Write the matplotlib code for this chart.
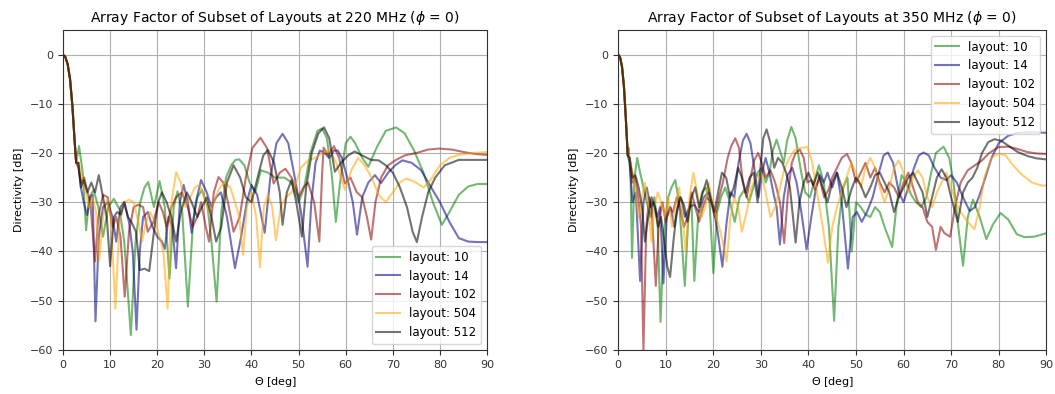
import numpy as np
import matplotlib
matplotlib.use("Agg")
import matplotlib.pyplot as plt

# ---------------- data (theta [deg], directivity [dB]) ----------------
layouts = ["layout: 10", "layout: 14", "layout: 102", "layout: 504", "layout: 512"]
colors = ["green", "navy", "darkred", "orange", "black"]

main_220 = [(0, 0), (0.5, -0.5), (1, -2), (1.5, -5), (2, -10.5), (2.5, -18), (2.8, -22)]
main_350 = [(0, 0), (0.4, -0.6), (0.8, -2.5), (1.2, -6.5), (1.6, -13), (2.0, -20.5)]

f220_l10 = [(3.4,-18.6),(4.2,-24),(4.9,-35.7),(5.6,-29),(6.5,-27.5),(7.5,-31),(8.5,-37),(9.6,-31),(10.8,-29.3),(12,-31.5),(13,-38),(14.4,-57),(15.4,-38),(16.4,-30),(17.3,-27),(18.1,-25.9),(19.3,-31),(20.5,-25.7),(21.6,-31),(22.6,-45.5),(23.5,-31),(24.3,-27.8),(25.3,-32),(26.5,-51.2),(27.6,-34),(28.5,-29),(29.5,-27.5),(30.7,-31),(31.5,-38),(32.6,-50.2),(33.6,-32),(34.6,-25),(35.7,-22.5),(36.6,-21.4),(37.4,-21.3),(38.5,-22.5),(39.6,-26),(40.8,-28),(42,-23.5),(43.5,-24),(45,-25),(47,-25),(48.5,-26),(50,-30),(51.2,-27),(52.5,-20),(54,-15.5),(55,-15),(56,-17),(57,-24),(57.9,-34),(58.8,-26),(60,-18),(61,-16.7),(62,-18),(63.5,-21),(64.8,-22.8),(66.5,-19),(68.5,-15.5),(70.7,-14.8),(72.5,-16),(74.5,-19.5),(76.5,-24),(78.5,-30),(80.4,-34.6),(82,-32),(84,-28.5),(86,-26.8),(88,-26.3),(90,-26.3)]
f220_l14 = [(3.2,-22),(3.8,-27),(4.4,-30),(5.1,-32.6),(5.8,-29),(6.3,-28.5),(6.9,-54.2),(7.6,-37),(8.5,-31),(9.5,-30),(10.5,-33),(11.3,-38),(12.2,-31),(13,-30),(14,-34),(14.8,-40),(15.6,-55.9),(16.3,-40),(17,-33),(18,-32),(19,-35),(20,-37),(21,-38),(21.6,-39.5),(22.4,-33),(23.2,-35),(24,-43.4),(24.8,-30),(25.6,-26.5),(26.5,-30),(27.3,-36.2),(28.2,-30),(29.3,-25.5),(30.5,-28),(31.5,-31),(32.5,-29),(33.5,-28),(34.8,-33),(36.5,-43.4),(37.8,-37),(39,-30),(40,-26.5),(41.2,-28.5),(42.8,-36.2),(44,-25),(45.3,-18),(46.6,-16.1),(47.8,-18),(49,-24),(50.5,-32),(51.9,-43.1),(52.7,-30),(53.6,-22),(54.5,-19.5),(55.5,-20),(56.5,-21),(57.5,-19.5),(58.3,-19.5),(59.2,-21),(60.3,-25),(61.5,-30),(62.4,-36.6),(63.5,-29),(64.8,-26),(66.2,-24.5),(67.5,-26.1),(69,-24),(70.5,-22.5),(72,-21.5),(74,-22),(76,-23.5),(78,-26.8),(80,-30),(82,-34),(84,-37.3),(86,-38),(88,-38.1),(90,-38.1)]
f220_l102 = [(3.3,-23),(3.8,-26),(4.5,-25),(5.2,-28),(5.8,-30),(6.8,-42),(7.5,-33),(8.5,-28.5),(9.5,-29),(10.5,-35),(11.3,-33),(12.2,-37),(13.1,-49.2),(14,-36),(15,-31),(16,-30.5),(17,-31),(18,-36),(19.2,-34),(20.3,-30),(21.2,-32),(22,-35),(23,-31),(24,-29),(25.2,-28),(26.5,-31),(27.5,-35),(28.5,-33),(29.3,-30),(30.3,-35),(31,-38),(32,-28),(33,-24.9),(34,-26),(35,-30),(36.2,-36),(37.5,-33),(38.8,-25),(40.2,-19),(41.9,-16.9),(43.3,-19),(44.7,-26.2),(46,-24),(47.2,-23.2),(48.5,-25),(50,-29),(51,-27),(52,-26),(53.3,-30),(54.4,-38),(55,-24),(55.3,-18.9),(56.3,-20.5),(57.5,-18.6),(58.6,-21),(59.8,-26.2),(61,-25),(62.3,-27.9),(63.5,-29),(64.5,-33),(65.4,-37.6),(66.3,-30),(67.5,-25),(69,-22.5),(70.5,-21.5),(72.5,-20.5),(75,-20),(77.5,-19.3),(79.8,-19.1),(82.5,-19.3),(85,-19.8),(87.5,-20.2),(90,-20.4)]
f220_l504 = [(3.3,-22),(4,-25),(4.7,-27),(5.5,-31),(6.3,-29),(7,-32),(7.7,-41.8),(8.5,-33),(9.3,-29.5),(10.2,-33),(11.1,-51.6),(12,-34),(13,-30),(14,-29.5),(15,-30),(16,-34),(16.8,-38),(17.6,-34),(18.5,-32),(19.5,-34),(20.5,-37),(21.3,-40),(22.2,-51.6),(23,-30),(24,-23.9),(25,-26),(26,-31),(27,-29),(28,-27),(29,-26.5),(30,-29),(31,-32),(32,-30),(33,-27.5),(34.2,-26),(35.5,-27),(36.5,-30),(37.4,-33),(38.2,-40.7),(39,-31),(40,-28),(41,-33),(41.8,-43.2),(42.6,-31),(43.5,-28.5),(44.4,-31),(45.2,-37.7),(46.2,-31),(47.3,-29),(48.5,-28),(49.5,-26),(50.5,-23),(52,-21.5),(53.5,-21),(55,-20),(56.5,-19.4),(58,-22),(59.8,-27.5),(61.2,-23.5),(62.6,-21),(64,-22.5),(65.5,-25),(67,-28.5),(68.5,-30),(70,-28),(71.5,-26),(72.8,-25.2),(74.5,-25.8),(76.5,-27),(78,-25.5),(80,-22.5),(82,-21),(84,-20.4),(87,-20),(90,-19.8)]
f220_l512 = [(3.3,-22),(3.8,-27),(4.4,-25.5),(5.2,-28),(6,-26),(6.8,-28),(7.6,-24.5),(8.5,-29),(9.3,-33),(10,-43),(10.8,-33),(11.5,-32),(12.3,-32.5),(13,-30),(13.8,-33),(14.5,-34),(15.5,-36),(16.3,-43.8),(17.3,-43.5),(18.3,-44),(19.3,-36),(20.2,-30),(21,-28),(22,-30),(23,-33),(24,-38),(25,-32),(26.3,-28),(27.3,-30),(28.5,-33),(29.5,-31),(30.5,-29),(31.5,-33),(32.5,-38),(33.6,-35),(34.8,-26),(36.2,-22.5),(37.6,-25),(38.8,-29),(40,-30),(41.3,-25),(42.5,-20.5),(43.5,-19.4),(44.8,-22),(46,-28),(46.6,-34.6),(47.5,-28),(48.5,-25.5),(49.5,-30),(50.7,-37),(51.6,-27),(52.8,-20),(54.2,-16),(55.4,-14.8),(56.5,-17),(57.7,-23.8),(59,-22),(60.5,-20.5),(61.9,-19.7),(63.5,-20.5),(65.4,-21.4),(67,-21.5),(68.5,-22.5),(70,-24),(71.5,-27),(73,-31),(74.2,-36),(75.1,-38.1),(76.2,-33),(77.5,-28),(79,-25),(81,-22.5),(84,-21.4),(87,-21.4),(90,-21.4)]

f350_l10 = [(2.2,-19),(2.6,-25),(2.9,-41.3),(3.4,-25),(4,-21),(4.6,-24),(5.3,-27),(6,-30),(6.8,-33),(7.6,-29),(8.3,-35),(8.9,-54.3),(9.6,-36),(10.5,-29),(11.2,-27),(12,-25.5),(12.8,-30),(14,-47),(14.8,-32),(15.4,-30),(16,-46),(16.8,-33),(17.6,-28),(18.4,-27),(19.2,-30),(20,-44.4),(20.8,-32),(21.6,-29),(22.5,-27),(23.5,-30),(24.5,-34),(25.5,-29),(26.5,-27.5),(27.5,-30),(28.4,-27),(29.3,-24),(30.2,-23),(31,-26),(31.8,-24),(32.5,-19.5),(33.3,-17.3),(34,-19.5),(34.8,-22),(35.5,-17.5),(36.4,-14.7),(37.3,-17),(38.3,-23),(39.3,-28),(40.3,-29),(41.3,-25.5),(42.2,-22.5),(43.2,-26),(44.3,-35),(45.4,-54.1),(46.3,-35),(47.3,-27),(48.2,-25),(49.1,-40),(50,-30),(51,-31),(52,-32.5),(53,-33),(54,-31),(55,-32),(56,-35),(57.6,-39.1),(58.6,-30),(59.6,-24.5),(60.6,-26),(61.6,-28.5),(62.6,-30),(63.7,-31),(64.8,-29),(65.8,-24),(66.8,-20),(68.4,-18.7),(69.6,-21),(70.5,-26),(71.5,-35),(72.5,-42.9),(73.5,-33),(74.6,-29.5),(76,-33),(77.4,-37.5),(78.8,-34.5),(80.4,-32.2),(82,-33.5),(83.8,-36.5),(85.4,-37.1),(87.5,-37),(90,-36.3)]
f350_l14 = [(2.4,-22),(3,-30),(3.7,-28),(4.6,-46),(5.3,-30),(6,-27),(6.8,-31),(7.5,-30),(8.2,-33),(8.8,-31),(9.5,-46.5),(10.2,-33),(11,-31),(11.8,-35),(12.5,-31),(13.2,-29),(14,-33),(15,-31),(16,-30.5),(17,-32),(18,-29),(19,-28),(20,-31),(20.9,-36),(21.9,-43.1),(22.8,-34),(23.6,-28),(24.4,-29),(25.3,-22),(26.2,-17.5),(27,-16.1),(27.8,-18),(28.6,-23),(29.5,-29),(30.2,-24),(31,-21),(31.8,-24),(32.6,-28),(33.3,-31),(34,-38.6),(34.8,-29),(35.6,-24.5),(36.6,-23),(37.5,-26),(38.5,-32),(39.6,-39.6),(40.6,-33),(41.6,-27),(42.4,-24.5),(43.2,-26),(44,-24),(45,-27),(46,-24),(47,-30),(48.3,-43.5),(49.3,-33),(50.2,-32),(51.2,-34),(52.3,-32),(53.5,-29),(54.8,-24),(55.8,-20.5),(56.7,-19.9),(57.8,-22),(59,-28),(60,-30),(61,-27),(62.2,-23),(63.2,-20.5),(64.2,-19.9),(65.3,-20.5),(66.5,-23),(67.8,-25),(69,-25.5),(70,-24.5),(71.2,-26),(72.5,-29),(73.9,-31.8),(75,-31),(76,-28.5),(77.2,-25),(78.5,-21),(80,-18),(82,-16.5),(84,-15.9),(87,-15.8),(90,-15.9)]
f350_l102 = [(2.4,-21),(3,-26),(3.6,-25),(4.2,-29),(4.8,-35),(5.3,-60),(5.9,-35),(6.5,-29),(7,-31),(7.9,-47),(8.6,-33),(9.3,-30),(10,-34),(10.8,-31),(11.5,-32),(12.3,-29),(13,-31),(13.8,-35),(14.6,-33),(15.4,-28),(16.2,-31),(17,-34),(17.8,-31),(18.6,-29),(19.5,-30),(20.3,-33),(21.2,-29),(22,-26),(23,-21),(23.8,-18.5),(24.6,-17),(25.4,-19),(26.2,-26),(27,-29),(27.8,-25),(28.6,-21.5),(29.4,-20),(30.2,-22),(31,-25),(32,-23.5),(33,-26),(34,-30),(34.9,-38.3),(35.7,-28),(36.5,-22),(37.3,-20),(38.2,-19.3),(39,-21),(39.8,-26),(40.6,-25.5),(41.4,-27.5),(42.3,-25),(43.3,-29),(44.2,-27.5),(45,-25),(46,-23),(47,-21),(48.1,-20.2),(49,-22),(50,-26),(51,-24),(52,-22),(53,-25),(54,-23),(55,-26),(56,-28),(57,-26),(58,-27),(59,-29),(60,-26),(61,-24),(62,-27),(63,-30),(64,-31),(65,-34),(66,-35),(66.8,-39.7),(67.8,-35),(68.6,-36.3),(69.8,-37),(70.8,-31),(72,-26),(73.5,-23.5),(75,-22.5),(76.5,-21.5),(78,-20),(80,-18.8),(82,-18.7),(84,-19.2),(86,-19.8),(88,-20.1),(90,-20.2)]
f350_l504 = [(2.4,-21),(3,-24),(3.6,-27),(4.3,-33),(5,-29),(5.6,-26),(6.3,-30),(7,-38),(7.6,-31),(8.3,-28),(9,-30),(9.8,-33),(10.5,-29),(11.3,-35),(12,-31),(12.8,-27),(13.5,-33),(14.2,-40),(15,-29),(15.8,-24),(16.6,-28),(17.5,-33),(18.3,-31),(19,-26),(19.8,-30),(20.6,-33),(21.5,-36),(22.8,-42),(23.6,-33),(24.4,-29),(25.2,-31),(26,-36),(27,-32),(28,-27),(29,-25),(30,-24),(31,-28),(32,-33),(33,-31),(34,-27),(35,-23),(36,-21),(37,-19.5),(38,-19),(39.8,-18.8),(40.8,-22),(41.8,-28),(43,-35),(44.1,-42.3),(45,-35),(46,-31),(47,-28),(48,-25),(49,-22),(50,-24),(51,-27),(52,-23),(53,-21),(54,-23),(55,-27),(56,-30),(57,-27),(58,-23),(59,-21.5),(60,-24),(61,-28),(62,-25),(63,-23.5),(64,-25),(65,-29),(66,-31),(67,-28),(68,-26),(69,-24),(70,-27),(71,-30),(72,-32),(73.5,-34),(74.9,-35.5),(76,-31),(77,-25),(78.5,-21),(80,-20.1),(81.5,-20.5),(83,-22.5),(85,-24.5),(87,-26),(89,-26.6),(90,-26.6)]
f350_l512 = [(2.4,-21),(3,-25),(3.6,-24.5),(4.3,-27),(5,-31),(5.6,-38),(6.3,-33),(7,-29),(7.7,-31),(8.4,-35),(9,-33),(9.7,-38),(10.3,-43),(10.9,-45.2),(11.6,-38),(12.3,-32),(13,-29),(13.8,-30.5),(14.6,-34),(15.4,-29),(16.2,-27),(17,-31),(17.8,-28),(18.6,-25.5),(19.4,-29),(20.2,-32),(21,-28),(21.8,-24),(22.7,-25),(23.5,-29),(24.3,-27),(25.2,-23),(26,-25),(26.8,-28),(27.6,-25),(28.5,-24),(29.3,-30),(30,-22),(30.5,-17),(31.2,-15.2),(32,-18),(32.8,-23),(33.6,-21),(34.5,-22),(35.3,-24),(36.1,-27),(37.3,-38.2),(38.1,-30),(39,-26),(40,-24),(41,-26.5),(42,-24),(43,-27),(44,-30),(45,-26),(46,-24),(47,-27),(48,-31),(49,-27.5),(50,-25),(51,-26.5),(52,-29),(53,-27),(54,-24.5),(55,-24),(56,-26),(57,-28),(58,-32),(59,-29),(60,-27),(61,-25),(62,-24),(63,-26),(64,-28),(65,-33),(66,-29),(67,-25),(68,-23.3),(69,-25),(70,-29),(71.4,-34),(72.5,-28),(73.5,-26),(74.5,-25),(75.5,-23),(76.5,-20),(77.8,-17.8),(79.1,-17.2),(80.5,-17.5),(82,-18.5),(84,-19.8),(86,-20.6),(88,-21.1),(90,-21.3)]

series_220 = [f220_l10, f220_l14, f220_l102, f220_l504, f220_l512]
series_350 = [f350_l10, f350_l14, f350_l102, f350_l504, f350_l512]
freqs = ["220", "350"]

# ---------------- figure ----------------
plt.rcParams["font.family"] = ["DejaVu Sans"]
fig = plt.figure(figsize=(10.55, 3.94), dpi=100)
ax1 = fig.add_axes([0.0597, 0.112, 0.402, 0.812])
ax2 = fig.add_axes([0.586, 0.112, 0.4057, 0.812])

for ax, main, series, freq, loc in [(ax1, main_220, series_220, freqs[0], "lower right"),
                                    (ax2, main_350, series_350, freqs[1], "upper right")]:
    for pts, lab, col in zip(series, layouts, colors):
        arr = np.array(main + pts)
        ax.plot(arr[:, 0], arr[:, 1], color=col, alpha=0.55, lw=1.5, label=lab)
    ax.set_xlim(0, 90)
    ax.set_ylim(-60, 5)
    ax.set_xticks(np.arange(0, 91, 10))
    ax.set_yticks(np.arange(-60, 1, 10))
    ax.grid(True, color="#b0b0b0", lw=0.8)
    ax.tick_params(labelsize=8, colors="#333333")
    ax.set_xlabel(r"$\Theta$ [deg]", fontsize=8)
    ax.set_ylabel("Directivity [dB]", fontsize=8)
    ax.set_title(f"Array Factor of Subset of Layouts at {freq} MHz ($\\phi$ = 0)", fontsize=10)
    for s in ax.spines.values():
        s.set_color("#333333")
    ax.legend(loc=loc, fontsize=8.5, framealpha=0.8)

fig.savefig("out.png", dpi=100)
